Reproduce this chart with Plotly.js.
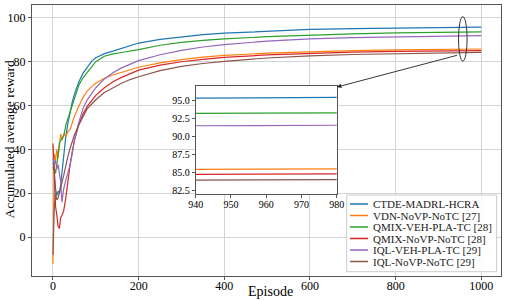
<!DOCTYPE html>
<html>
<head>
<meta charset="utf-8">
<script src="https://cdn.plot.ly/plotly-3.0.1.min.js"></script>
<style>html,body{margin:0;padding:0;background:#fff;}#chart{width:532px;height:300px;}</style>
</head>
<body>
<div id="chart"></div>
<script>
// ---- data ----
const episodes = [0,3,6,9,12,15,18,21,25,30,35,40,45,50,60,70,80,90,100,120,140,160,180,200,250,300,350,400,500,600,700,800,900,940,960,980,1000];

const ctde      = [32,30,22,19,21,20,24,30,37,46,52,57,61.5,65,70.5,74.5,77.5,80,81.6,83.5,84.6,85.8,87.2,88.3,90,91.2,92.1,92.8,93.8,94.5,94.9,95.1,95.3,95.35,95.4,95.45,95.5];
const vdn       = [-12,38,35,40,36,42,47,44,47,46,48,49,52,55,59.5,63.5,66.5,68.5,70,72.3,73.8,75,76.2,77.3,79.3,80.8,81.9,82.7,83.7,84.4,84.9,85.2,85.45,85.5,85.55,85.6,85.6];
const qmixVeh   = [34,31,29,33,38,43,44,45,46,51,54,57,61,64,69,72.5,75,77.5,79.8,82.3,83.4,84,84.6,85.3,87.3,88.6,89.5,90.2,91.2,91.9,92.5,92.9,93.2,93.25,93.3,93.32,93.35];
const qmixNoVP  = [42.7,25,14,10,5,4,9,10,12,18,26,33,39,44,51,56,59.5,62,64.5,68,70.7,72.7,74.5,76,78.3,79.8,80.9,81.8,82.9,83.7,84.2,84.5,84.75,84.8,84.85,84.9,84.9];
const iqlVeh    = [36,33,35,31,33,29,25,16,22,26,29,33,38,44,52,58.5,62.5,65.5,68,72,74.8,77,78.8,80.3,83,85,86.5,87.6,89.2,90.2,90.8,91.2,91.45,91.5,91.55,91.6,91.7];
const iqlNoVP   = [-8,14,20,17,18,20,23,25,28,33,37,40.5,43.5,46.5,51,55,58.5,60.5,62.5,65.8,68,70,71.7,73,75.8,77.7,79,80,81.5,82.5,83.1,83.5,83.9,84,84.05,84.1,84.1];

const seriesNames = ["CTDE-MADRL-HCRA","VDN-NoVP-NoTC [27]","QMIX-VEH-PLA-TC [28]","QMIX-NoVP-NoTC [28]","IQL-VEH-PLA-TC [29]","IQL-NoVP-NoTC [29]"];
const seriesValues = [ctde, vdn, qmixVeh, qmixNoVP, iqlVeh, iqlNoVP];
const colors = ["#1f77b4","#ff7f0e","#2ca02c","#d62728","#9467bd","#8c564b"];

const xTicks = [0,200,400,600,800,1000];
const yTicks = [0,20,40,60,80,100];
const insetXTicks = [940,950,960,970,980];
const insetYTicks = [82.5,85,87.5,90,92.5,95];

// ---- layout helpers (pixel -> paper) ----
const W = 532, H = 300;
const M = {l:32, r:31, t:5, b:24};
const PW = W - M.l - M.r, PH = H - M.t - M.b;
const px = v => (v - M.l) / PW;
const py = v => (H - M.b - v) / PH;

const FONT = "Liberation Serif, Times New Roman, serif";
const frame = '#555555';

const traces = [];
seriesValues.forEach((vals, i) => {
  traces.push({x: episodes, y: vals, type: 'scatter', mode: 'lines', name: seriesNames[i],
    line: {color: colors[i], width: 1.2}, xaxis: 'x', yaxis: 'y', showlegend: false, hoverinfo: 'skip'});
});
seriesValues.forEach((vals, i) => {
  traces.push({x: episodes, y: vals, type: 'scatter', mode: 'lines', name: seriesNames[i],
    line: {color: colors[i], width: 1.2}, xaxis: 'x2', yaxis: 'y2', showlegend: false, hoverinfo: 'skip'});
});

const shapes = [];
const annotations = [];

// zoom ellipse in data coordinates
shapes.push({type: 'circle', xref: 'x', yref: 'y', x0: 946.8, x1: 966.9, y0: 80.1, y1: 100.3,
  line: {color: '#333', width: 1}});

// arrow from ellipse to inset corner
annotations.push({xref: 'x', yref: 'y', x: 662.8, y: 68.3, axref: 'x', ayref: 'y', ax: 946.8, ay: 82.9,
  text: '', showarrow: true, arrowhead: 2, arrowsize: 1, arrowwidth: 0.9, arrowcolor: '#222'});

// custom legend
shapes.push({type: 'rect', xref: 'paper', yref: 'paper', x0: px(346.7), x1: px(496.7), y0: py(271.7), y1: py(195),
  line: {color: '#cccccc', width: 1}, fillcolor: 'rgba(255,255,255,0.85)', layer: 'above'});
seriesNames.forEach((nm, i) => {
  const yc = 204 + i * 11.5;
  shapes.push({type: 'line', xref: 'paper', yref: 'paper', x0: px(350), x1: px(368), y0: py(yc), y1: py(yc),
    line: {color: colors[i], width: 1.5}, layer: 'above'});
  annotations.push({xref: 'paper', yref: 'paper', x: px(370.5), y: py(yc), xanchor: 'left', yanchor: 'middle',
    text: nm, showarrow: false, font: {family: FONT, size: 11, color: '#222'}});
});

// axis titles
annotations.push({xref: 'paper', yref: 'paper', x: px(270.7), y: py(291), xanchor: 'center', yanchor: 'middle',
  text: 'Episode', showarrow: false, font: {family: FONT, size: 14, color: '#000'}});
annotations.push({xref: 'paper', yref: 'paper', x: px(8.5), y: py(140), xanchor: 'center', yanchor: 'middle',
  text: 'Accumulated average reward', textangle: -90, showarrow: false, font: {family: FONT, size: 13.5, color: '#000'}});

const layout = {
  width: W, height: H,
  margin: M,
  paper_bgcolor: '#fff', plot_bgcolor: '#fff',
  showlegend: false,
  font: {family: FONT, size: 12, color: '#000'},
  xaxis: {domain: [0,1], range: [-49, 1046], tickvals: xTicks, ticks: 'outside', ticklen: 3, tickcolor: frame,
    showline: true, mirror: true, linecolor: frame, linewidth: 1, showgrid: true, gridcolor: '#d4d4d4', gridwidth: 1,
    zeroline: false, tickfont: {family: FONT, size: 12}, ticklabelstandoff: -4, anchor: 'y'},
  yaxis: {domain: [0,1], range: [-17.6, 105.6], tickvals: yTicks, ticks: 'outside', ticklen: 3, tickcolor: frame,
    showline: true, mirror: true, linecolor: frame, linewidth: 1, showgrid: true, gridcolor: '#d4d4d4', gridwidth: 1,
    zeroline: false, tickfont: {family: FONT, size: 12}, anchor: 'x'},
  xaxis2: {domain: [px(195.7), px(336.7)], range: [939.98, 980.02], tickvals: insetXTicks, ticks: 'outside', ticklen: 3,
    tickcolor: frame, showline: true, mirror: true, linecolor: frame, linewidth: 1, showgrid: false, zeroline: false,
    tickfont: {family: FONT, size: 10}, ticklabelstandoff: -2, anchor: 'y2'},
  yaxis2: {domain: [py(194), py(86)], range: [82.08, 97.03], tickvals: insetYTicks, tickformat: '.1f', ticks: 'outside', ticklen: 3,
    tickcolor: frame, showline: true, mirror: true, linecolor: frame, linewidth: 1, showgrid: false, zeroline: false,
    tickfont: {family: FONT, size: 10}, anchor: 'x2'},
  shapes: shapes,
  annotations: annotations
};

Plotly.newPlot('chart', traces, layout, {staticPlot: true, displayModeBar: false});
</script>
</body>
</html>
